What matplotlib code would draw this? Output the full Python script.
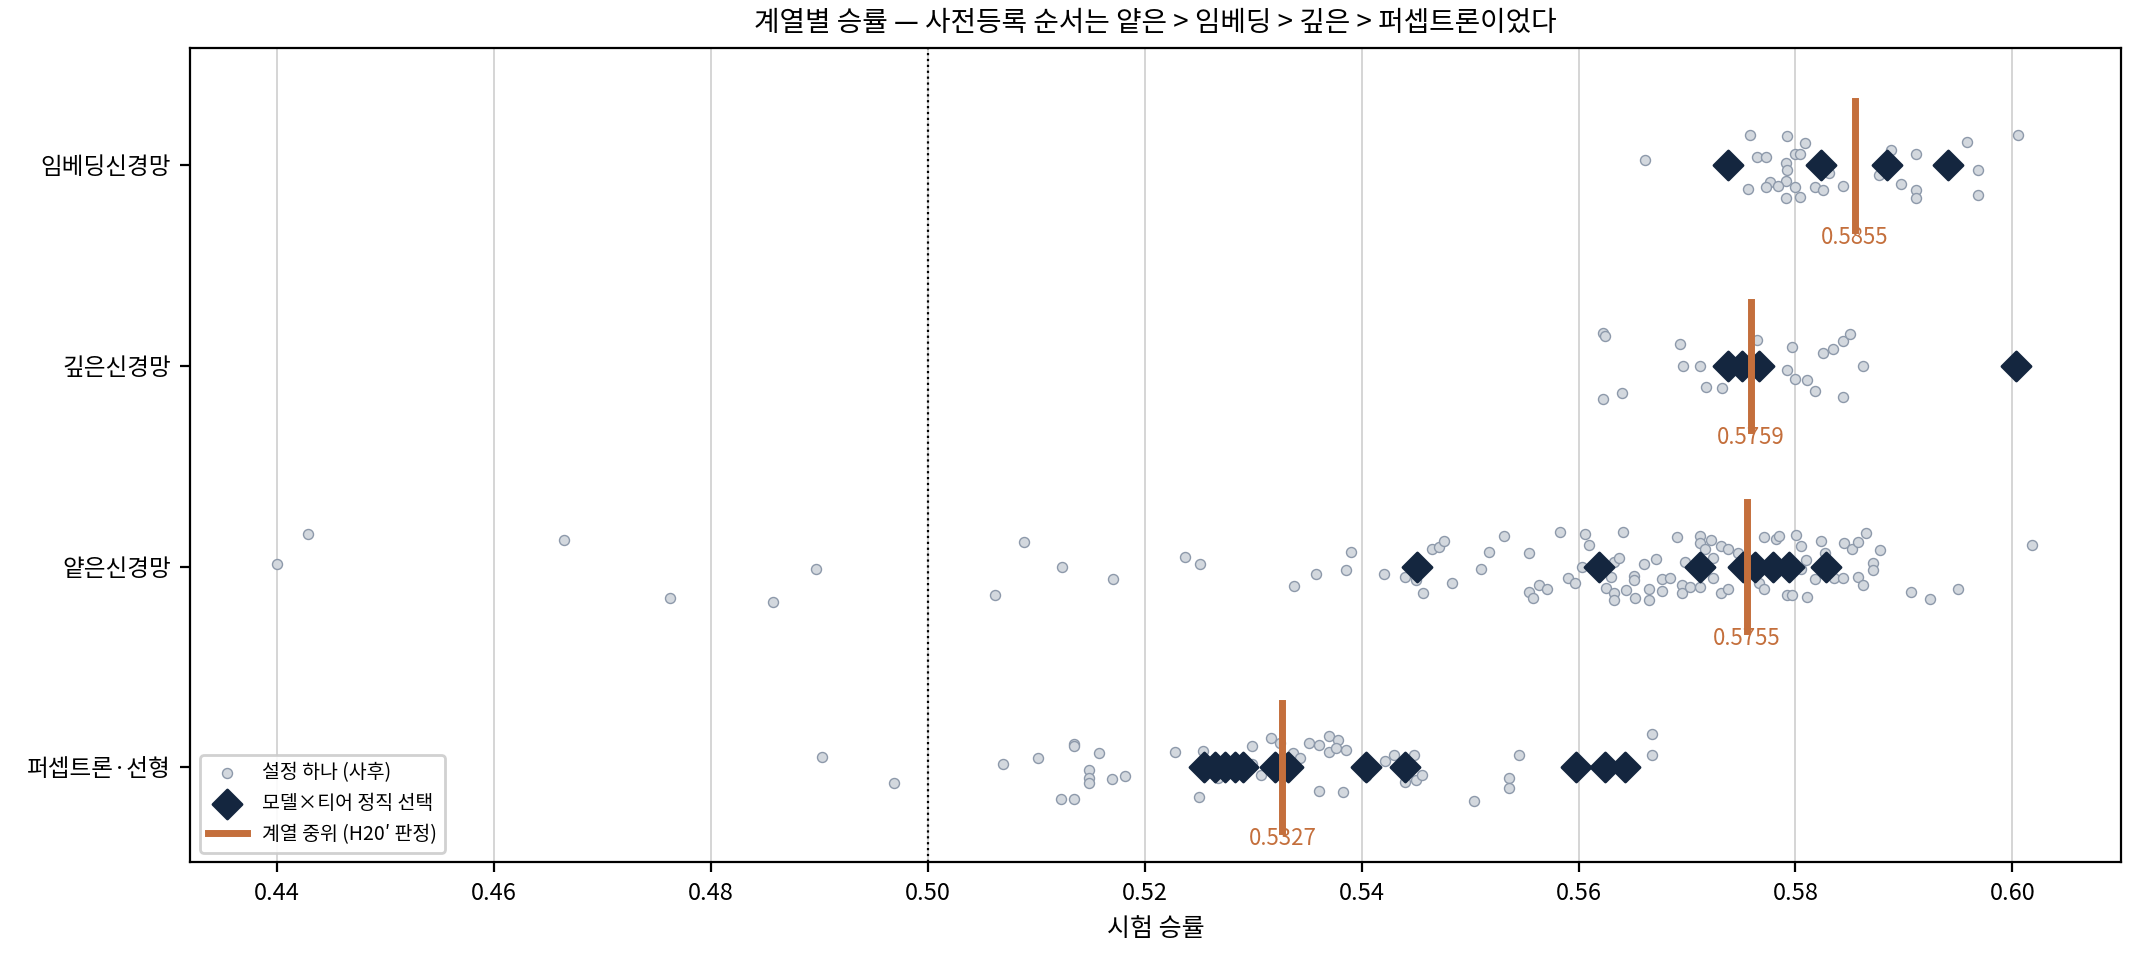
import matplotlib.pyplot as plt

plt.rcParams['font.family'] = ['Noto Sans CJK KR', 'DejaVu Sans']

# Row order bottom -> top
families = ["퍼셉트론·선형", "얕은신경망", "깊은신경망", "임베딩신경망"]
medians = [0.5327, 0.5755, 0.5759, 0.5855]

# individual settings (post-hoc): (win rate, vertical jitter)
perc_pts = [
    (0.4902, 0.05), (0.4969, -0.08), (0.5069, 0.015), (0.5102, 0.045), (0.5135, 0.115),
    (0.5135, 0.105), (0.5158, 0.07), (0.5149, -0.015), (0.5149, -0.055), (0.5149, -0.08),
    (0.5170, -0.06), (0.5182, -0.045), (0.5123, -0.16), (0.5135, -0.16), (0.5228, 0.075),
    (0.5254, 0.08), (0.5250, -0.15), (0.5268, -0.055), (0.5299, 0.105), (0.5307, -0.04),
    (0.5299, 0.015), (0.5316, 0.145), (0.5325, 0.12), (0.5317, 0.025), (0.5337, 0.07),
    (0.5343, 0.045), (0.5351, 0.12), (0.5361, 0.11), (0.5370, 0.155), (0.5378, 0.135),
    (0.5370, 0.075), (0.5376, 0.095), (0.5386, 0.085), (0.5361, -0.12), (0.5383, -0.125),
    (0.5404, -0.045), (0.5422, 0.03), (0.5430, 0.06), (0.5448, 0.06), (0.5440, -0.075),
    (0.5450, -0.065), (0.5456, -0.04), (0.5504, -0.17), (0.5536, -0.055), (0.5536, -0.105),
    (0.5545, 0.06), (0.5668, 0.165), (0.5668, 0.06),
]
shallow_pts = [
    (0.4400, 0.015), (0.4428, 0.16), (0.4664, 0.13), (0.4762, -0.155), (0.4857, -0.175),
    (0.4897, -0.01), (0.5062, -0.14), (0.5089, 0.12), (0.5124, 0.0), (0.5171, -0.06),
    (0.5237, 0.05), (0.5251, 0.015), (0.5338, -0.095),
    (0.5358, -0.035), (0.5386, -0.015), (0.5390, 0.07), (0.5421, -0.035), (0.5440, -0.05),
    (0.5450, -0.065), (0.5457, -0.13), (0.5465, 0.085), (0.5471, 0.095), (0.5476, 0.125),
    (0.5483, -0.08), (0.5510, -0.01), (0.5517, 0.07), (0.5531, 0.15), (0.5554, 0.065),
    (0.5554, -0.125), (0.5558, -0.155), (0.5564, -0.09), (0.5571, -0.11), (0.5583, 0.17),
    (0.5590, -0.055), (0.5597, -0.08), (0.5603, 0.0), (0.5606, 0.16), (0.5610, 0.105),
    (0.5625, -0.105), (0.5630, -0.05), (0.5633, 0.025), (0.5633, -0.13), (0.5633, -0.165),
    (0.5637, 0.045), (0.5641, 0.17), (0.5644, -0.115), (0.5651, -0.045), (0.5651, -0.065),
    (0.5652, -0.155), (0.5660, 0.015), (0.5665, -0.11), (0.5665, -0.165), (0.5671, 0.04),
    (0.5677, -0.06), (0.5677, -0.12), (0.5684, -0.055), (0.5691, 0.145), (0.5695, -0.09),
    (0.5695, -0.13), (0.5698, 0.025), (0.5703, -0.1), (0.5712, 0.15), (0.5712, 0.115),
    (0.5712, -0.1), (0.5717, 0.085), (0.5722, 0.13), (0.5724, 0.045), (0.5724, -0.055),
    (0.5731, 0.1), (0.5731, -0.13), (0.5738, -0.11), (0.5738, 0.085), (0.5747, 0.065),
    (0.5766, -0.08), (0.5771, 0.145), (0.5771, -0.11), (0.5782, 0.135), (0.5785, 0.15),
    (0.5792, -0.14), (0.5797, -0.14), (0.5801, 0.155), (0.5805, 0.1), (0.5805, -0.01),
    (0.5810, 0.035), (0.5811, -0.15), (0.5818, -0.06), (0.5824, 0.125), (0.5827, 0.065),
    (0.5836, -0.055), (0.5844, -0.055), (0.5845, 0.115), (0.5852, 0.085), (0.5858, 0.12),
    (0.5858, -0.05), (0.5862, -0.09), (0.5865, 0.165), (0.5872, 0.02), (0.5872, -0.015),
    (0.5878, 0.08), (0.5907, -0.125), (0.5924, -0.16), (0.5950, -0.11), (0.6018, 0.105),
]
deep_pts = [
    (0.5623, 0.165), (0.5624, 0.15), (0.5623, -0.165), (0.5640, -0.135), (0.5694, 0.11),
    (0.5696, 0.0), (0.5712, 0.0), (0.5718, -0.105), (0.5732, -0.11), (0.5765, 0.13),
    (0.5792, -0.02), (0.5797, 0.095), (0.5800, -0.065), (0.5811, -0.07), (0.5818, -0.125),
    (0.5825, 0.065), (0.5835, 0.085), (0.5844, 0.125), (0.5844, -0.155), (0.5862, 0.0),
    (0.5850, 0.16),
]
embed_pts = [
    (0.5758, 0.15), (0.5792, 0.145), (0.5809, 0.11), (0.5765, 0.04), (0.5773, 0.04),
    (0.5800, 0.055), (0.5804, 0.055), (0.5791, 0.01), (0.5792, -0.025), (0.5777, -0.085),
    (0.5791, -0.08), (0.5756, -0.12), (0.5773, -0.11), (0.5784, -0.105), (0.5800, -0.11),
    (0.5818, -0.11), (0.5825, -0.125), (0.5791, -0.165), (0.5804, -0.16), (0.5831, -0.04),
    (0.5844, -0.105), (0.5877, -0.05), (0.5888, 0.075), (0.5897, -0.095), (0.5911, 0.055),
    (0.5911, -0.125), (0.5911, -0.165), (0.5958, 0.115), (0.5968, -0.025), (0.5968, -0.15),
    (0.6005, 0.15), (0.5661, 0.025),
]
all_pts = [perc_pts, shallow_pts, deep_pts, embed_pts]

# model x tier pre-registered picks
picks = [
    [0.5255, 0.5265, 0.5274, 0.5283, 0.5291, 0.5320, 0.5332, 0.5404, 0.5440, 0.5598, 0.5624, 0.5643],
    [0.5451, 0.5619, 0.5712, 0.5752, 0.5763, 0.5779, 0.5794, 0.5828],
    [0.5738, 0.5751, 0.5766, 0.6003],
    [0.5738, 0.5824, 0.5884, 0.5941],
]

orange = '#c46f3c'
fig, ax = plt.subplots(figsize=(10.7, 4.9), dpi=200)
fig.subplots_adjust(left=0.089, right=0.991, top=0.951, bottom=0.12)

for i, pts in enumerate(all_pts):
    xs = [p[0] for p in pts]
    ys = [i + p[1] for p in pts]
    ax.scatter(xs, ys, s=13, color='#d3d8de', edgecolor='#8d99aa', linewidth=0.5,
               zorder=2, label='설정 하나 (사후)' if i == 0 else None)
    ax.scatter(picks[i], [i] * len(picks[i]), s=55, marker='D', color='#14263f',
               zorder=3, label='모델×티어 정직 선택' if i == 0 else None)
    ax.plot([medians[i], medians[i]], [i - 0.32, i + 0.32], color=orange, lw=2.5,
            zorder=4, label="계열 중위 (H20′ 판정)" if i == 0 else None)
    ax.text(medians[i], i - 0.3, f"{medians[i]:.4f}", color=orange, fontsize=8,
            ha='center', va='top', zorder=5)

ax.axvline(0.5, color='black', ls=':', lw=0.8, zorder=1)
ax.set_xlim(0.432, 0.61)
ax.set_ylim(-0.475, 3.585)
ax.set_yticks(range(4))
ax.set_yticklabels(families)
ax.grid(axis='x', color='#d5d5d5', lw=0.7, zorder=0)
ax.set_axisbelow(True)
ax.tick_params(labelsize=8.5)
ax.set_xlabel("시험 승률", fontsize=9)
ax.set_title("계열별 승률 — 사전등록 순서는 얕은 > 임베딩 > 깊은 > 퍼셉트론이었다", fontsize=10)
ax.legend(loc='lower left', fontsize=7, framealpha=0.9)

fig.savefig("out.png")
